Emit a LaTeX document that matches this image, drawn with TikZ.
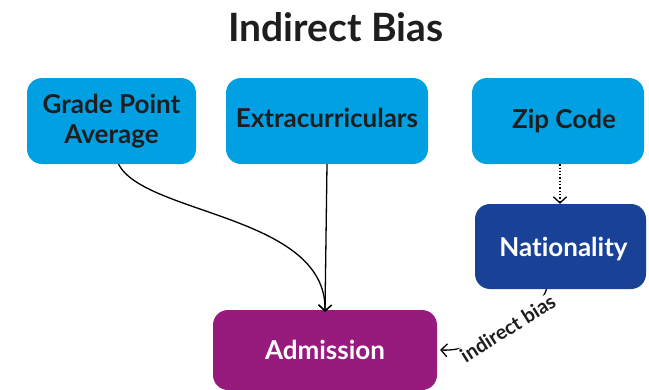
\documentclass[tikz,border=0pt]{standalone}
\usepackage{fontspec}
\setmainfont{Lato}[Ligatures=NoCommon]
\usetikzlibrary{arrows.meta}
\definecolor{skyblue}{RGB}{0,160,226}
\definecolor{navy}{RGB}{25,66,150}
\definecolor{plum}{RGB}{151,27,125}
\definecolor{ink}{RGB}{30,30,30}
\begin{document}
\begin{tikzpicture}[x=1pt,y=-1pt,
  box/.style={rounded corners=15pt, inner sep=0pt},
  factor/.style={box, fill=skyblue},
  boxtext/.style={inner sep=0pt, align=center,
    font=\fontsize{26}{30}\selectfont\bfseries},
  link/.style={line width=1.3pt, -{Straight Barb[length=6pt,width=13pt]}},
]
\useasboundingbox (0,0) rectangle (649,389);
\node[font=\fontsize{39}{44}\selectfont\bfseries, text=ink] (title) at (336,27) {Indirect Bias};

% boxes
\node[factor, minimum width=169pt, minimum height=86pt] (gpa) at (111.5,121) {};
\node[factor, minimum width=202pt, minimum height=86pt] (extra) at (327,121) {};
\node[factor, minimum width=172pt, minimum height=86pt] (zip) at (558,121) {};
\node[box, fill=navy, minimum width=171pt, minimum height=85pt] (nat) at (560.5,246.5) {};
\node[box, fill=plum, minimum width=224pt, minimum height=80pt] (adm) at (325,350) {};

% box captions
\node[boxtext, text=ink] (gpatext) at (gpa.center) {Grade Point\\Average};
\node[boxtext, text=ink] (extratext) at ([yshift=3pt]extra.center) {Extracurriculars};
\node[boxtext, text=ink] (ziptext) at ([xshift=6pt]zip.center) {Zip Code};
\node[boxtext, text=white] (nattext) at ([xshift=3pt,yshift=-3pt]nat.center) {Nationality};
\node[boxtext, text=white] (admtext) at (adm.center) {Admission};

% connectors
\draw[link] ([xshift=7pt]gpa.south) .. controls (145,215) and (327,215) .. ([yshift=-2pt]adm.north);
\draw[link] (extra.south) -- ([yshift=-2pt]adm.north);
\draw[link, dotted] ([xshift=2pt]zip.south) -- ([xshift=-0.5pt]nat.north);
\draw[link] ([xshift=-14pt]nat.south) .. controls (541,310) and (484,352) .. ([xshift=3pt]adm.east)
  node[pos=0.5, sloped, fill=white, inner sep=1pt, text=ink,
       font=\fontsize{20}{22}\selectfont\bfseries] (lbl) {indirect bias};
\end{tikzpicture}
\end{document}
